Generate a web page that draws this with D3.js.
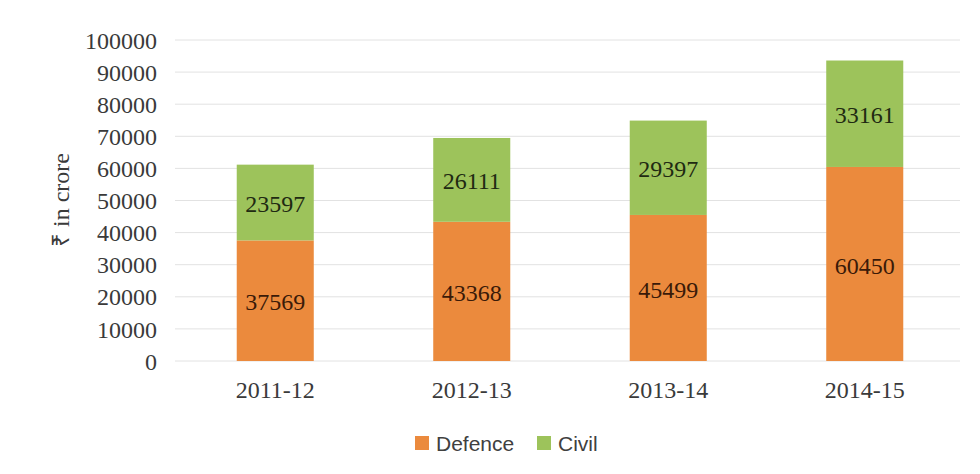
<!DOCTYPE html>
<html>
<head>
<meta charset="utf-8">
<script src="https://cdn.jsdelivr.net/npm/d3@7"></script>
<style>
  html, body { margin: 0; padding: 0; background: #fff; }
  svg { display: block; }
</style>
</head>
<body>
<svg id="chart" width="980" height="474"></svg>
<script>
// Expenditure by year, split into Defence and Civil (₹ in crore)
const years = ["2011-12", "2012-13", "2013-14", "2014-15"];
const defence = [37569, 43368, 45499, 60450];
const civil = [23597, 26111, 29397, 33161];
const seriesNames = ["Defence", "Civil"];
const seriesColors = ["#EB8A3D", "#9DC35B"];
const yTicks = [0, 10000, 20000, 30000, 40000, 50000, 60000, 70000, 80000, 90000, 100000];

const svg = d3.select("#chart");
const serif = "'Liberation Serif', 'Times New Roman', serif";
const sans = "'Liberation Sans', Arial, sans-serif";
const fs = 24;

const plot = { left: 177, right: 963, top: 40, bottom: 361 };

const x = d3.scaleBand()
  .domain(years)
  .range([plot.left, plot.right])
  .paddingInner(0.608)
  .paddingOuter(0.304);

const y = d3.scaleLinear()
  .domain([0, 100000])
  .range([plot.bottom, plot.top]);

// Horizontal gridlines
svg.append("g")
  .selectAll("line")
  .data(yTicks)
  .join("line")
  .attr("x1", plot.left - 2)
  .attr("x2", plot.right - 3)
  .attr("y1", d => y(d))
  .attr("y2", d => y(d))
  .attr("stroke", "#e2e2e2")
  .attr("stroke-width", 1);

// Y axis tick labels
const yAxis = d3.axisLeft(y).tickValues(yTicks).tickSize(0).tickPadding(0).tickFormat(d3.format("d"));
svg.append("g")
  .attr("transform", `translate(157,0)`)
  .call(yAxis)
  .call(g => g.select(".domain").remove())
  .call(g => g.selectAll("text")
    .attr("font-family", serif)
    .attr("font-size", fs)
    .attr("fill", "#3a3a3a")
    .attr("dy", "0.34em"));

// Y axis title
svg.append("text")
  .attr("transform", "translate(69,200) rotate(-90)")
  .attr("text-anchor", "middle")
  .attr("font-family", serif)
  .attr("font-size", fs)
  .attr("fill", "#3a3a3a")
  .text("₹ in crore");

// X axis category labels
const xAxis = d3.axisBottom(x).tickSize(0).tickPadding(0);
svg.append("g")
  .attr("transform", `translate(0,${plot.bottom})`)
  .call(xAxis)
  .call(g => g.select(".domain").remove())
  .call(g => g.selectAll("text")
    .attr("font-family", serif)
    .attr("font-size", fs)
    .attr("fill", "#3a3a3a")
    .attr("dy", "1.54em"));

// Stacked bars
const rows = years.map((yr, i) => ({ year: yr, Defence: defence[i], Civil: civil[i] }));
const stacked = d3.stack().keys(seriesNames)(rows);

const layers = svg.append("g")
  .selectAll("g")
  .data(stacked)
  .join("g")
  .attr("fill", (d, i) => seriesColors[i]);

layers.selectAll("rect")
  .data(d => d)
  .join("rect")
  .attr("x", d => x(d.data.year))
  .attr("width", x.bandwidth())
  .attr("y", d => y(d[1]))
  .attr("height", d => y(d[0]) - y(d[1]));

// Value labels centred in each segment
layers.selectAll("text")
  .data(d => d.map(v => ({ v, key: d.key })))
  .join("text")
  .attr("x", d => x(d.v.data.year) + x.bandwidth() / 2)
  .attr("y", d => (y(d.v[0]) + y(d.v[1])) / 2)
  .attr("dy", "0.4em")
  .attr("text-anchor", "middle")
  .attr("font-family", serif)
  .attr("font-size", fs)
  .attr("fill", d => d.key === "Civil" ? "#1f2a12" : "#3a1a08")
  .text(d => d.v.data[d.key]);

// Legend
const legendItems = [
  { name: "Defence", color: seriesColors[0], x: 415 },
  { name: "Civil", color: seriesColors[1], x: 537 }
];
const legend = svg.append("g");
legend.selectAll("rect")
  .data(legendItems)
  .join("rect")
  .attr("x", d => d.x)
  .attr("y", 436)
  .attr("width", 14)
  .attr("height", 14)
  .attr("fill", d => d.color);
legend.selectAll("text")
  .data(legendItems)
  .join("text")
  .attr("x", d => d.x + 21)
  .attr("y", 451)
  .attr("font-family", sans)
  .attr("font-size", 21)
  .attr("fill", "#404040")
  .text(d => d.name);
</script>
</body>
</html>
